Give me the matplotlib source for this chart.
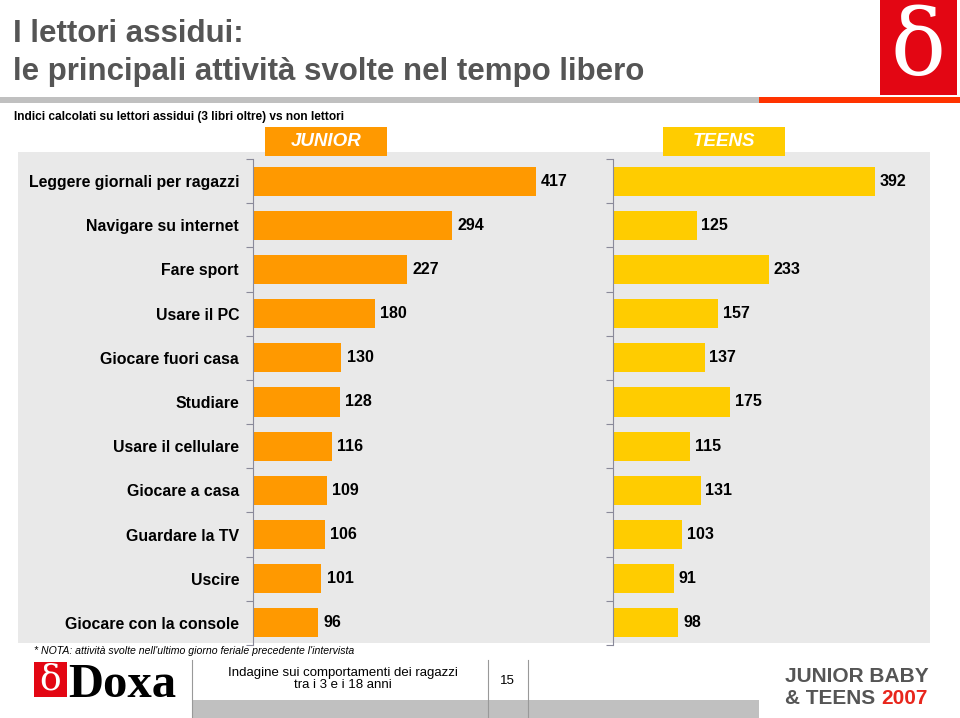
import numpy as np
import matplotlib
matplotlib.use("Agg")
import matplotlib.pyplot as plt
from matplotlib.patches import Rectangle

# data
categories = ["Leggere giornali per ragazzi", "Navigare su internet", "Fare sport",
              "Usare il PC", "Giocare fuori casa", "Studiare", "Usare il cellulare",
              "Giocare a casa", "Guardare la TV", "Uscire", "Giocare con la console"]
junior = [417, 294, 227, 180, 130, 128, 116, 109, 106, 101, 96]
teens = [392, 125, 233, 157, 137, 175, 115, 131, 103, 91, 98]

ORANGE = "#ff9900"
YELLOW = "#ffcc00"
PANEL = "#e9e9e9"
GREY_TXT = "#555555"
RED = "#e8261c"

plt.rcParams["font.family"] = ["Liberation Sans", "DejaVu Sans"]

W, H = 960, 718
fig = plt.figure(figsize=(W / 100, H / 100), dpi=100)


def fbox(x0, y0, x1, y1):
    # pixel box (top-left origin) -> figure fraction rect
    return [x0 / W, 1 - y1 / H, (x1 - x0) / W, (y1 - y0) / H]


# background layer in pixel coordinates
bg = fig.add_axes([0, 0, 1, 1], zorder=0)
bg.set_xlim(0, W)
bg.set_ylim(H, 0)
bg.axis("off")

# title
bg.text(13, 42, "I lettori assidui:", fontsize=22.5, fontweight="bold", color=GREY_TXT,
        va="baseline")
bg.text(13, 80, "le principali attività svolte nel tempo libero", fontsize=22.5,
        fontweight="bold", color=GREY_TXT, va="baseline")
bg.add_patch(Rectangle((0, 97), 759, 6, color="#c0c0c0", lw=0))
bg.add_patch(Rectangle((759, 97), W - 759, 6, color="#ff3300", lw=0))
# logo top right
bg.add_patch(Rectangle((880, 0), 77, 95, color="#e30613", lw=0))
bg.text(918, 50, "δ", fontsize=66, color="white", family="DejaVu Serif", ha="center", va="center")

bg.text(14, 117, "Indici calcolati su lettori assidui (3 libri oltre) vs non lettori",
        fontsize=8.6, fontweight="bold", va="center")

# grey panel
bg.add_patch(Rectangle((18, 152), 912, 491, color=PANEL, lw=0))

# header boxes
bg.add_patch(Rectangle((265, 127), 122, 29, color=ORANGE, lw=0))
bg.text(326, 141, "JUNIOR", fontsize=13.5, color="white", fontstyle="italic", fontweight="bold",
        ha="center", va="center")
bg.add_patch(Rectangle((663, 127), 122, 29, color=YELLOW, lw=0))
bg.text(724, 141, "TEENS", fontsize=13.5, color="white", fontstyle="italic", fontweight="bold",
        ha="center", va="center")

# footer
bg.text(34, 651, "* NOTA: attività svolte nell'ultimo giorno feriale precedente l'intervista",
        fontsize=7.6, fontstyle="italic", va="center")
bg.add_patch(Rectangle((34, 662), 33, 35, color="#e30613", lw=0))
bg.text(50, 680, "δ", fontsize=26, color="white", family="DejaVu Serif", ha="center", va="center")
bg.text(68, 697, "Doxa", fontsize=35, fontweight="bold", family="Liberation Serif", va="baseline")
for x in (192, 488, 528):
    bg.plot([x, x], [660, H], color="#999999", lw=0.8)
bg.add_patch(Rectangle((192, 700), 567, 18, color="#c0c0c0", lw=0))
bg.text(343, 679, "Indagine sui comportamenti dei ragazzi\ntra i 3 e i 18 anni", fontsize=9.5,
        ha="center", va="center", linespacing=1.05)
bg.text(507, 681, "15", fontsize=9.5, ha="center", va="center")
bg.text(785, 676, "JUNIOR BABY", fontsize=15, fontweight="bold", color=GREY_TXT, va="center")
bg.text(785, 698, "& TEENS ", fontsize=15, fontweight="bold", color=GREY_TXT, va="center")
bg.text(881, 698, "2007", fontsize=15, fontweight="bold", color=RED, va="center")

y = np.arange(len(categories))


def bar_panel(rect, values, color, xmax, labels):
    ax = fig.add_axes(rect, zorder=1)
    ax.set_facecolor("none")
    ax.barh(y, values, height=0.66, color=color, zorder=2)
    ax.set_xlim(0, xmax)
    ax.set_ylim(len(categories) - 0.5, -0.5)
    for s in ("top", "right", "bottom"):
        ax.spines[s].set_visible(False)
    ax.spines["left"].set_color("#8a8a9a")
    ax.set_xticks([])
    ax.set_yticks(np.arange(-0.5, len(categories)), labels=[])
    ax.tick_params(axis="y", which="major", length=5, color="#8a8a9a")
    ax.set_yticks(y, minor=True)
    if labels:
        ax.set_yticklabels(categories, minor=True, fontsize=11.4, fontweight="bold")
    ax.tick_params(axis="y", which="minor", length=0, pad=10)
    for yi, v in zip(y, values):
        ax.text(v + xmax * 0.016, yi, str(v), fontsize=11.5, fontweight="bold", va="center")
    return ax


bar_panel(fbox(253, 159, 592, 645), junior, ORANGE, 500, True)
bar_panel(fbox(613, 159, 907, 645), teens, YELLOW, 440, False)

fig.savefig("out.png", dpi=100)
